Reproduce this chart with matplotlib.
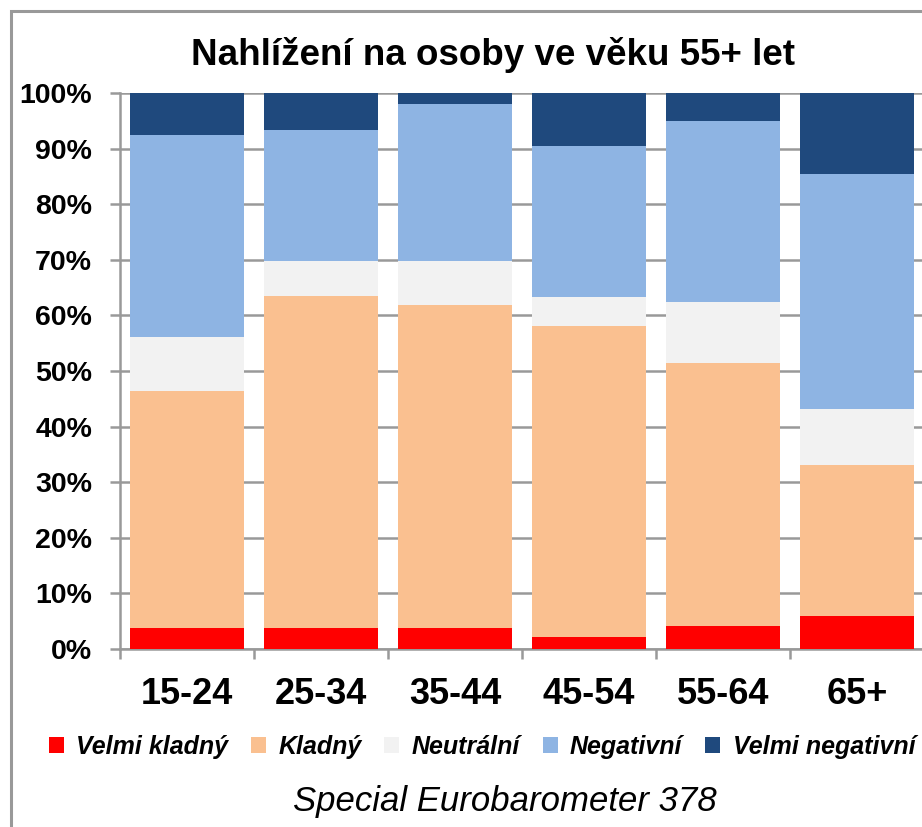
import matplotlib
matplotlib.use("Agg")
import matplotlib.pyplot as plt
from matplotlib.patches import Rectangle
import numpy as np

categories = ["15-24", "25-34", "35-44", "45-54", "55-64", "65+"]
series_names = ["Velmi kladný", "Kladný", "Neutrální", "Negativní", "Velmi negativní"]
velmi_kladny = [3.8, 3.8, 3.8, 2.2, 4.1, 5.9]
kladny = [42.6, 59.7, 58.1, 55.9, 47.3, 27.2]
neutralni = [9.7, 6.3, 7.9, 5.2, 11.0, 10.1]
negativni = [36.3, 23.5, 28.2, 27.2, 32.6, 42.2]
velmi_negativni = [7.6, 6.7, 2.0, 9.5, 5.0, 14.6]
colors = ["#FF0000", "#FAC090", "#F2F2F2", "#8EB4E3", "#1F497D"]
yticks = [0, 10, 20, 30, 40, 50, 60, 70, 80, 90, 100]
title = "Nahlížení na osoby ve věku 55+ let"
source = "Special Eurobarometer 378"

W, H = 922, 827
fig = plt.figure(figsize=(W / 100, H / 100), dpi=100)
fig.patch.set_facecolor("white")

sans = ["Liberation Sans", "DejaVu Sans"]

# outer border
fig.patches.append(Rectangle((11 / W, -0.1), 1.2, 1 - 11 / H + 0.1, transform=fig.transFigure,
                             fill=False, edgecolor="#999999", linewidth=2.2))

ax = fig.add_axes([120 / W, 1 - 649 / H, 804 / W, (649 - 93) / H])
x = np.arange(len(categories))
data = [velmi_kladny, kladny, neutralni, negativni, velmi_negativni]
bottom = np.zeros(len(categories))
handles = []
for vals, c, name in zip(data, colors, series_names):
    b = ax.bar(x, vals, bottom=bottom, width=0.85, color=c, label=name, zorder=3,
               edgecolor="none")
    bottom += np.array(vals)
    handles.append(b)

ax.set_xlim(-0.5, 5.5)
ax.set_ylim(0, 100)
ax.set_yticks(yticks)
ax.set_yticklabels([f"{v}%" for v in yticks], fontsize=20.5, fontweight="bold", family=sans)
ax.yaxis.grid(True, color="#999999", linewidth=1.8, zorder=0)
ax.set_axisbelow(True)

ax.set_xticks(x)
ax.set_xticklabels(categories, fontsize=26, fontweight="bold", family=sans)
ax.tick_params(axis="x", which="major", length=0, pad=20)
ax.set_xticks(np.arange(-0.5, 6.0, 1.0), minor=True)
ax.tick_params(axis="x", which="minor", length=7, width=1.8, color="#999999", direction="out")
ax.tick_params(axis="y", length=7, width=1.8, color="#999999", direction="out", pad=13)

for s in ["top", "right"]:
    ax.spines[s].set_visible(False)
for s in ["left", "bottom"]:
    ax.spines[s].set_color("#999999")
    ax.spines[s].set_linewidth(1.8)

fig.text(493 / W, 1 - 55 / H, title, ha="center", va="center", fontsize=26.5,
         fontweight="bold", family=sans)

leg = fig.legend(handles=handles, labels=series_names, loc="center", ncol=5,
                 bbox_to_anchor=(482 / W, 1 - 747 / H), frameon=False,
                 prop={"family": sans, "size": 18, "weight": "bold", "style": "italic"},
                 handlelength=0.6, handleheight=0.6, handletextpad=0.5, columnspacing=0.9)

fig.text(505 / W, 1 - 802 / H, source, ha="center", va="center", fontsize=25,
         style="italic", family=sans)

fig.savefig("out.png", dpi=100)
